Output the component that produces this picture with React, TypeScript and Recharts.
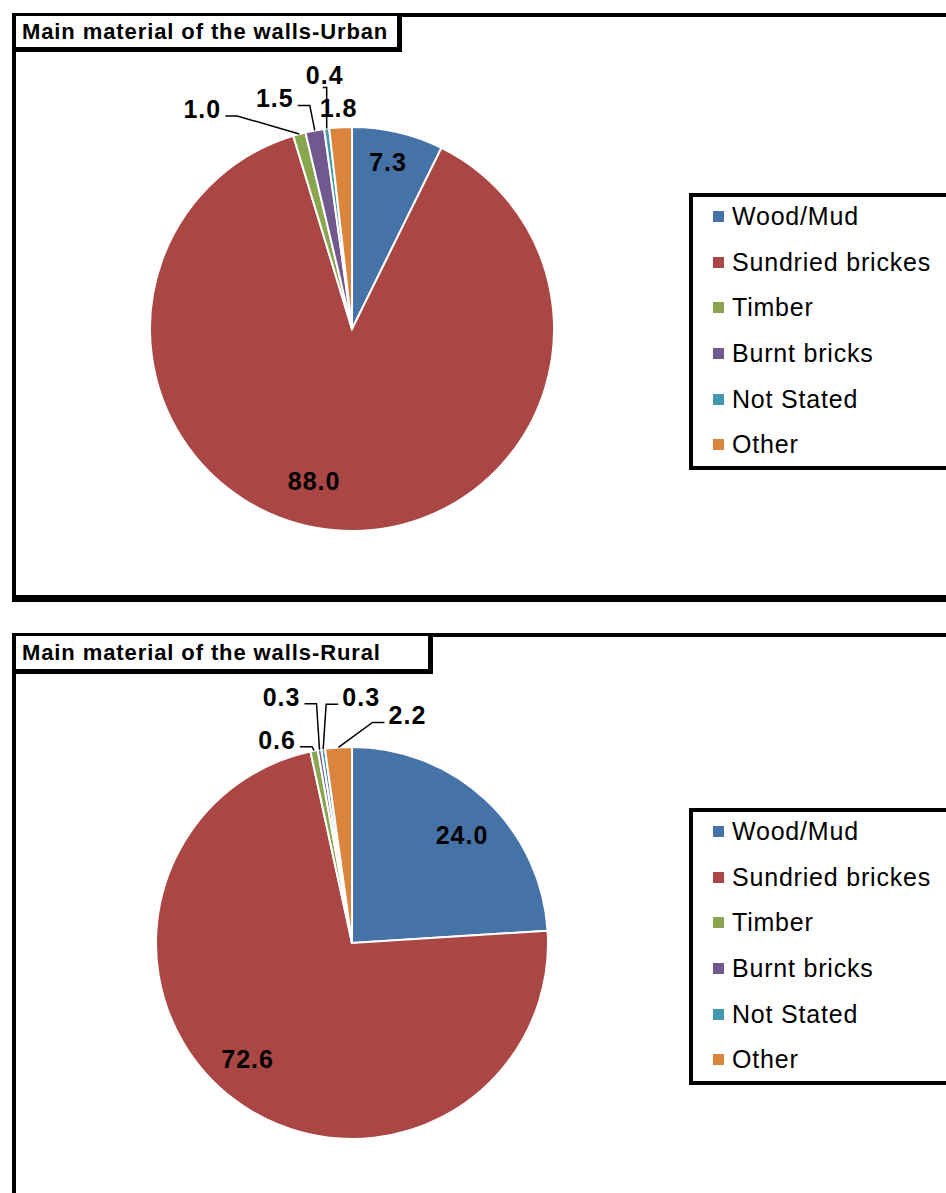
import React from "react";
import { PieChart, Pie, Cell, Legend } from "recharts";

const CATEGORIES = [
  "Wood/Mud",
  "Sundried brickes",
  "Timber",
  "Burnt bricks",
  "Not Stated",
  "Other",
];

const URBAN_VALUES = [7.3, 88.0, 1.0, 1.5, 0.4, 1.8];
const RURAL_VALUES = [24.0, 72.6, 0.6, 0.3, 0.3, 2.2];

const COLORS = [
  "#4572A7", // blue
  "#AA4643", // red
  "#89A54E", // green
  "#71588F", // purple
  "#4198AF", // teal
  "#DB843D", // orange
];

const FONT = '"Liberation Sans", Arial, Helvetica, sans-serif';

// label placement: r = fraction of radius along the slice middle, dx/dy nudge
const URBAN_LABELS = [
  { r: 0.85, dx: -3, dy: 0 },
  { r: 0.78, dx: -25, dy: -5 },
  { r: 1, dx: -97, dy: -25, leader: "elbow" },
  { r: 1, dx: -40, dy: -32, leader: "elbow" },
  { r: 1, dx: -2, dy: -54, leader: "vertical" },
  { r: 1, dx: -2, dy: -19 },
];

const RURAL_LABELS = [
  { r: 0.79, dx: 4, dy: 5 },
  { r: 0.79, dx: -11, dy: -8 },
  { r: 1, dx: -37, dy: -11, leader: "elbow" },
  { r: 1, dx: -38, dy: -53, leader: "elbow" },
  { r: 1, dx: 38, dy: -52, leader: "elbow" },
  { r: 1, dx: 69, dy: -32, leader: "elbow" },
];

function makeLabel(values: number[], layout: any[]) {
  return (props: any) => {
    const { cx, cy, midAngle, outerRadius, index } = props;
    const cfg = layout[index];
    const rad = (-midAngle * Math.PI) / 180;
    const ex = cx + outerRadius * Math.cos(rad);
    const ey = cy + outerRadius * Math.sin(rad);
    const x = cx + outerRadius * cfg.r * Math.cos(rad) + cfg.dx;
    const y = cy + outerRadius * cfg.r * Math.sin(rad) + cfg.dy;
    const text = values[index].toFixed(1);
    const halfW = 19;

    let leader = null;
    if (cfg.leader === "elbow") {
      const side = x < ex ? 1 : -1;
      const sx = x + side * (halfW + 4);
      const sy = y + 7;
      const bx = sx + side * 12;
      leader = (
        <polyline
          points={`${sx},${sy} ${bx},${sy} ${ex},${ey}`}
          fill="none"
          stroke="#000"
          strokeWidth={1.5}
        />
      );
    } else if (cfg.leader === "vertical") {
      leader = (
        <polyline
          points={`${ex - 4},${y + 13} ${ex},${y + 13} ${ex},${ey}`}
          fill="none"
          stroke="#000"
          strokeWidth={1.5}
        />
      );
    }

    return (
      <g>
        {leader}
        <text
          x={x}
          y={y}
          textAnchor="middle"
          dominantBaseline="central"
          fill="#000"
          fontFamily={FONT}
          fontSize={25}
          fontWeight="bold"
          letterSpacing={1}
        >
          {text}
        </text>
      </g>
    );
  };
}

function LegendBox() {
  return (
    <div
      style={{
        boxSizing: "border-box",
        width: 300,
        height: 277,
        border: "4px solid #000",
        background: "#fff",
        paddingLeft: 20,
        fontFamily: FONT,
        fontSize: 25,
        letterSpacing: 0.8,
        color: "#000",
      }}
    >
      <div style={{ marginTop: -3 }}>
        {CATEGORIES.map((name, i) => (
          <div
            key={name}
            style={{ height: 45.6, display: "flex", alignItems: "center" }}
          >
            <span
              style={{
                display: "inline-block",
                width: 11,
                height: 11,
                background: COLORS[i],
                marginRight: 8,
              }}
            />
            <span style={{ whiteSpace: "nowrap" }}>{name}</span>
          </div>
        ))}
      </div>
    </div>
  );
}

function Panel({
  title,
  values,
  layout,
  top,
  height,
  titleWidth,
  titleHeight,
  cx,
  cy,
  radius,
  legendTop,
  bottomBorder,
}: any) {
  const data = CATEGORIES.map((name, i) => ({ name, value: values[i] }));
  return (
    <>
      <div
        style={{
          position: "absolute",
          left: 12,
          top,
          width: 1000,
          height,
          boxSizing: "border-box",
          border: "4px solid #000",
          borderBottomWidth: bottomBorder,
        }}
      />
      <div
        style={{
          position: "absolute",
          left: 16,
          top: top + 3,
          width: titleWidth,
          height: titleHeight,
          boxSizing: "border-box",
          borderRight: "5px solid #000",
          borderBottom: "5px solid #000",
          background: "#fff",
          display: "flex",
          alignItems: "center",
          paddingLeft: 6,
          fontFamily: FONT,
          fontWeight: "bold",
          fontSize: 22,
          letterSpacing: 0.9,
          whiteSpace: "nowrap",
        }}
      >
        {title}
      </div>
      <div style={{ position: "absolute", left: 0, top }}>
        <PieChart
          width={946}
          height={height}
          margin={{ top: 0, right: 0, bottom: 0, left: 0 }}
        >
          <Pie
            data={data}
            dataKey="value"
            nameKey="name"
            cx={cx}
            cy={cy}
            outerRadius={radius}
            startAngle={90}
            endAngle={-270}
            stroke="#fff"
            strokeWidth={2}
            labelLine={false}
            label={makeLabel(values, layout)}
            isAnimationActive={false}
          >
            {data.map((entry, index) => (
              <Cell key={`cell-${index}`} fill={COLORS[index]} />
            ))}
          </Pie>
          <Legend
            layout="vertical"
            verticalAlign="top"
            align="right"
            content={() => <LegendBox />}
            wrapperStyle={{ left: 689, top: legendTop, width: 300 }}
          />
        </PieChart>
      </div>
    </>
  );
}

export default function App() {
  return (
    <div
      style={{
        position: "absolute",
        left: 0,
        top: 0,
        width: 946,
        height: 1193,
        overflow: "hidden",
        background: "#fff",
      }}
    >
      <Panel
        title="Main material of the walls-Urban"
        values={URBAN_VALUES}
        layout={URBAN_LABELS}
        top={13}
        height={589}
        titleWidth={386}
        titleHeight={36}
        cx={352}
        cy={316}
        radius={202}
        legendTop={180}
        bottomBorder={7}
      />
      <Panel
        title="Main material of the walls-Rural"
        values={RURAL_VALUES}
        layout={RURAL_LABELS}
        top={633}
        height={600}
        titleWidth={417}
        titleHeight={38}
        cx={352}
        cy={310}
        radius={196}
        legendTop={175}
        bottomBorder={4}
      />
    </div>
  );
}
